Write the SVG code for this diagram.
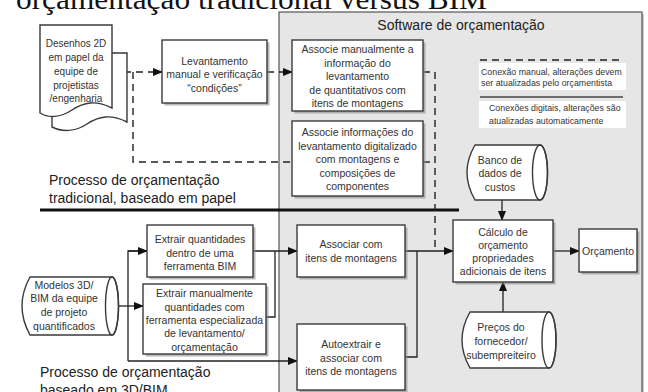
<svg xmlns="http://www.w3.org/2000/svg" width="648" height="392" viewBox="0 0 648 392">
<defs>
<marker id="arr" markerWidth="10" markerHeight="8" refX="9" refY="4" orient="auto" markerUnits="userSpaceOnUse">
<path d="M0,0 L10,4 L0,8 Z" fill="#111"/>
</marker>
<style>
.t{font-family:"Liberation Sans",Arial,sans-serif;font-size:10.5px;fill:#333;text-anchor:middle}
.big{font-family:"Liberation Sans",Arial,sans-serif;font-size:14px;fill:#222}
.leg{font-family:"Liberation Sans",Arial,sans-serif;font-size:8.8px;fill:#333}
.box{fill:#fff;stroke:#3a3a3a;stroke-width:1.4}
.sh{fill:#8a8a8a;opacity:0.6}
.ln{fill:none;stroke:#222;stroke-width:1.3}
.dash{fill:none;stroke:#222;stroke-width:1.4;stroke-dasharray:7,5}
</style>
</defs>
<rect width="648" height="392" fill="#fff"/>
<text x="16" y="9" font-family="'Liberation Serif',serif" font-size="30" fill="#111" textLength="471" lengthAdjust="spacingAndGlyphs">orçamentação tradicional versus BIM</text>
<g id="panel">
<rect x="281" y="14" width="363" height="390" fill="#9a9a9a" opacity="0.5"/>
<rect x="279" y="12" width="363" height="390" fill="#e6e6e6" stroke="#555" stroke-width="1.2"/>
<text class="big" x="461" y="30" text-anchor="middle">Software de orçamentação</text>
</g>
<g id="legend">
<line class="dash" x1="480" y1="60" x2="622" y2="60"/>
<rect x="479" y="63" width="147" height="27" fill="#fff"/>
<text class="leg" x="481" y="75">Conexão manual, alterações devem</text>
<text class="leg" x="481" y="86">ser atualizadas pelo orçamentista</text>
<line x1="480" y1="97" x2="623" y2="97" stroke="#444" stroke-width="1.6"/>
<rect x="479" y="101" width="147" height="27" fill="#fff"/>
<text class="leg" x="489" y="111">Conexões digitais, alterações são</text>
<text class="leg" x="489" y="124">atualizadas automaticamente</text>
</g>
<g id="labels">
<text class="big" x="49" y="185">Processo de orçamentação</text>
<text class="big" x="49" y="203">tradicional, baseado em papel</text>
<text class="big" x="40" y="377">Processo de orçamentação</text>
<text class="big" x="40" y="395">baseado em 3D/BIM</text>
<line x1="40" y1="210" x2="459" y2="210" stroke="#111" stroke-width="3"/>
</g>
<g id="connectors">
<line class="dash" x1="112" y1="72" x2="162" y2="72" marker-end="url(#arr)"/>
<polyline class="dash" points="133,72 133,162 292,162"/>
<line class="dash" x1="267" y1="72" x2="292" y2="72" marker-end="url(#arr)"/>
<polyline class="dash" points="423,72 435,72 435,251"/>
<line class="dash" x1="423" y1="162" x2="435" y2="162"/>
<line class="ln" x1="405" y1="251" x2="453" y2="251" marker-end="url(#arr)"/>
<polyline class="ln" points="405,357 417,357 417,251"/>
<line class="ln" x1="502" y1="200" x2="502" y2="220" marker-end="url(#arr)"/>
<line class="ln" x1="503" y1="312" x2="503" y2="282" marker-end="url(#arr)"/>
<line class="ln" x1="553" y1="251" x2="579" y2="251" marker-end="url(#arr)"/>
<line class="ln" x1="253" y1="251" x2="297" y2="251" marker-end="url(#arr)"/>
<polyline class="ln" points="266,317 275,317 275,251"/>
<line class="ln" x1="118" y1="306" x2="143" y2="306" marker-end="url(#arr)"/>
<polyline class="ln" points="147,251 128,251 128,361"/>
<line class="ln" x1="128" y1="251" x2="147" y2="251" marker-end="url(#arr)"/>
<line class="ln" x1="128" y1="361" x2="297" y2="361" marker-end="url(#arr)"/>
</g>
<g id="desenhos">
<path class="box" d="M52,53 H127 V122 C111,114 99,116 87,124 C75,132 62,132 52,127 Z"/>
<path class="box" d="M40,25 H112 V108 C96,100 84,102 72,110 C60,118 48,118 40,113 Z"/>
<text class="t" x="76" y="47" style="font-size:10px">Desenhos 2D</text>
<text class="t" x="76" y="61" style="font-size:10px">em papel da</text>
<text class="t" x="76" y="75" style="font-size:10px">equipe de</text>
<text class="t" x="76" y="89" style="font-size:10px">projetistas</text>
<text class="t" x="76" y="102" style="font-size:10px">/engenharia</text>
</g>
<g id="levantamento">
<rect class="sh" x="164.5" y="42.5" width="105" height="63"/>
<rect class="box" x="162" y="40" width="105" height="63"/>
<text class="t" x="214.5" y="65">Levantamento</text>
<text class="t" x="214.5" y="78">manual e verificação</text>
<text class="t" x="214.5" y="92">“condições”</text>
</g>
<g id="associe-manual">
<rect class="sh" x="294.5" y="42.5" width="131" height="71"/>
<rect class="box" x="292" y="40" width="131" height="71"/>
<text class="t" x="357.5" y="53">Associe manualmente a</text>
<text class="t" x="357.5" y="67">informação do</text>
<text class="t" x="357.5" y="80">levantamento</text>
<text class="t" x="357.5" y="94">de quantitativos com</text>
<text class="t" x="357.5" y="107">itens de montagens</text>
</g>
<g id="associe-digital">
<rect class="sh" x="294.5" y="123.5" width="131" height="75"/>
<rect class="box" x="292" y="121" width="131" height="75"/>
<text class="t" x="357.5" y="136">Associe informações do</text>
<text class="t" x="357.5" y="149.5">levantamento digitalizado</text>
<text class="t" x="357.5" y="163">com montagens e</text>
<text class="t" x="357.5" y="176.5">composições de</text>
<text class="t" x="357.5" y="190">componentes</text>
</g>
<g id="banco">
<path class="box" d="M540,145 H475 Q459,172.5 475,200 H540 A7.5,27.5 0 0 0 540,145 Z"/>
<ellipse cx="540" cy="172.5" rx="7.5" ry="27.5" fill="none" stroke="#3a3a3a" stroke-width="1.4"/>
<text class="t" x="500" y="164">Banco de</text>
<text class="t" x="500" y="177">dados de</text>
<text class="t" x="500" y="191">custos</text>
</g>
<g id="modelos">
<path class="box" d="M112,277 H30 Q14,306 30,335 H112 A6.5,29 0 0 0 112,277 Z"/>
<ellipse cx="112" cy="306" rx="6.5" ry="29" fill="none" stroke="#3a3a3a" stroke-width="1.4"/>
<text class="t" x="64" y="289">Modelos 3D/</text>
<text class="t" x="64" y="302">BIM da equipe</text>
<text class="t" x="64" y="316">de projeto</text>
<text class="t" x="64" y="330">quantificados</text>
</g>
<g id="extrair-bim">
<rect class="sh" x="149.5" y="227.5" width="106" height="52"/>
<rect class="box" x="147" y="225" width="106" height="52"/>
<text class="t" x="200" y="243">Extrair quantidades</text>
<text class="t" x="200" y="257">dentro de uma</text>
<text class="t" x="200" y="270">ferramenta BIM</text>
</g>
<g id="extrair-manual">
<rect class="sh" x="145.5" y="286.5" width="123" height="70"/>
<rect class="box" x="143" y="284" width="123" height="70"/>
<text class="t" x="204.5" y="297">Extrair manualmente</text>
<text class="t" x="204.5" y="311">quantidades com</text>
<text class="t" x="204.5" y="324">ferramenta especializada</text>
<text class="t" x="204.5" y="337">de levantamento/</text>
<text class="t" x="204.5" y="351">orçamentação</text>
</g>
<g id="associar">
<rect class="sh" x="299.5" y="227.5" width="108" height="52"/>
<rect class="box" x="297" y="225" width="108" height="52"/>
<text class="t" x="351" y="248">Associar com</text>
<text class="t" x="351" y="262">itens de montagens</text>
</g>
<g id="autoextrair">
<rect class="sh" x="299.5" y="326.5" width="108" height="66"/>
<rect class="box" x="297" y="324" width="108" height="66"/>
<text class="t" x="351" y="348">Autoextrair e</text>
<text class="t" x="351" y="362">associar com</text>
<text class="t" x="351" y="375">itens de montagens</text>
</g>
<g id="calculo">
<rect class="sh" x="455.5" y="222.5" width="100" height="62"/>
<rect class="box" x="453" y="220" width="100" height="62"/>
<text class="t" x="503" y="236">Cálculo de</text>
<text class="t" x="503" y="249">orçamento</text>
<text class="t" x="503" y="262">propriedades</text>
<text class="t" x="503" y="275">adicionais de itens</text>
</g>
<g id="orcamento">
<rect class="sh" x="581.5" y="231.5" width="58" height="43"/>
<rect class="box" x="579" y="229" width="58" height="43"/>
<text class="t" x="608" y="255">Orçamento</text>
</g>
<g id="precos">
<path class="box" d="M549,312 H470 Q454,340 470,368 H549 A7,28 0 0 0 549,312 Z"/>
<ellipse cx="549" cy="340" rx="7" ry="28" fill="none" stroke="#3a3a3a" stroke-width="1.4"/>
<text class="t" x="501" y="331">Preços do</text>
<text class="t" x="501" y="345">fornecedor/</text>
<text class="t" x="501" y="359">subempreiteiro</text>
</g>
</svg>
